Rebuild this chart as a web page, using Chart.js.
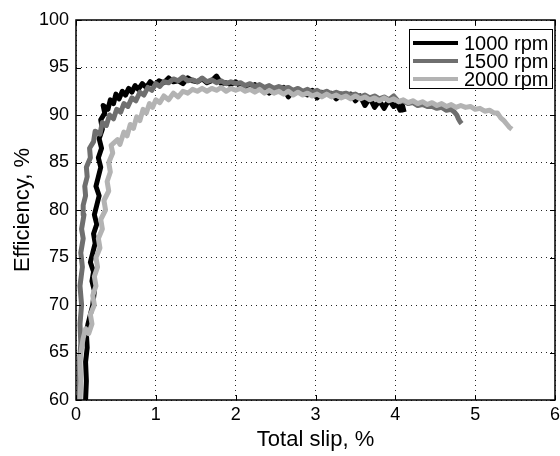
<!DOCTYPE html>
<html>
<head>
<meta charset="utf-8">
<script src="https://cdn.jsdelivr.net/npm/chart.js@4/dist/chart.umd.min.js"></script>
<style>
  html, body { margin: 0; padding: 0; background: #fff; }
  #wrap { width: 560px; height: 456px; }
</style>
</head>
<body>
<div id="wrap"><canvas id="effChart" width="560" height="456"></canvas></div>
<script>
// values: [total slip %, efficiency %]
const seriesLabels = ['1000 rpm', '1500 rpm', '2000 rpm'];
const seriesColors = ['#000000', '#6f6f6f', '#b3b3b3'];

const rpm1000 = [
  [0.12,60],[0.13,62],[0.12,64],[0.14,65.5],[0.13,67],[0.15,68],[0.18,69],[0.21,70],[0.23,71.5],[0.20,72.5],
  [0.22,73.5],[0.18,74.5],[0.21,75.5],[0.24,76.5],[0.22,77.5],[0.26,78.5],[0.23,79.5],[0.26,80.5],[0.29,81.5],[0.25,82.5],
  [0.28,83.5],[0.31,84.5],[0.28,85.5],[0.32,86.5],[0.29,87.5],[0.33,88.5],[0.31,89.5],[0.36,90.2],[0.34,91.0],[0.40,90.6],
  [0.43,91.6],[0.47,91.2],[0.50,92.2],[0.54,91.7],[0.58,92.5],[0.62,92.1],[0.66,92.8],[0.70,92.4],[0.74,93.1],[0.78,92.7],
  [0.83,93.3],[0.88,92.9],[0.93,93.5],[0.98,93.1],[1.04,93.6],[1.10,93.4],[1.16,93.9],[1.22,93.5],[1.28,93.6],[1.34,93.3],
  [1.40,93.9],[1.46,93.6],[1.52,93.5],[1.58,93.8],[1.64,93.4],[1.70,93.6],[1.76,94.1],[1.82,93.3],[1.88,93.4],[1.94,93.2],
  [2.00,93.5],[2.06,93.0],[2.12,93.1],[2.18,92.8],[2.24,93.2],[2.30,92.7],[2.36,92.9],[2.42,92.3],[2.48,92.8],[2.54,92.6],
  [2.60,92.9],[2.66,91.9],[2.72,92.5],[2.78,92.6],[2.84,92.3],[2.90,92.1],[2.96,92.6],[3.02,91.8],[3.08,92.4],[3.14,92.2],
  [3.20,92.3],[3.26,91.7],[3.32,92.2],[3.38,92.0],[3.44,92.2],[3.50,91.5],[3.56,92.0],[3.62,91.0],[3.68,91.8],[3.74,90.8],
  [3.80,91.5],[3.86,90.7],[3.92,91.6],[3.98,90.9],[4.02,91.2],[4.06,90.5],[4.09,91.0],[4.11,90.3]
];

const rpm1500 = [
  [0.04,60],[0.05,62],[0.04,64],[0.06,66],[0.05,68],[0.07,70],[0.05,72],[0.08,74],[0.06,75.5],[0.09,77],
  [0.07,78],[0.10,79.5],[0.09,80.5],[0.12,81.5],[0.11,82.5],[0.14,83.5],[0.13,84.5],[0.18,85.5],[0.17,86.5],[0.22,87.2],
  [0.24,88.3],[0.30,88.0],[0.33,89.2],[0.38,88.9],[0.42,90.0],[0.47,89.6],[0.51,90.6],[0.56,90.3],[0.60,91.2],[0.65,90.9],
  [0.70,91.8],[0.75,91.5],[0.80,92.4],[0.85,92.1],[0.90,92.9],[0.95,92.6],[1.00,93.3],[1.05,93.0],[1.10,93.5],[1.16,93.4],
  [1.22,93.8],[1.28,93.6],[1.34,94.0],[1.40,93.6],[1.46,93.7],[1.52,93.5],[1.58,93.9],[1.64,93.5],[1.70,93.7],[1.76,93.4],
  [1.82,93.6],[1.88,93.3],[1.94,93.5],[2.00,93.3],[2.06,93.4],[2.12,93.1],[2.18,93.3],[2.24,93.0],[2.30,93.2],[2.36,92.9],
  [2.42,93.1],[2.48,92.8],[2.54,93.0],[2.60,92.8],[2.66,92.9],[2.72,92.6],[2.78,92.8],[2.84,92.5],[2.90,92.7],[2.96,92.4],
  [3.02,92.6],[3.08,92.3],[3.14,92.5],[3.20,92.2],[3.26,92.4],[3.32,92.2],[3.38,92.3],[3.44,92.1],[3.50,92.2],[3.56,91.9],
  [3.62,92.1],[3.68,91.8],[3.74,92.0],[3.80,91.7],[3.86,91.9],[3.92,91.6],[3.98,92.0],[4.04,91.4],[4.10,91.5],[4.16,91.2],
  [4.22,91.3],[4.28,91.0],[4.34,91.1],[4.40,90.9],[4.46,90.9],[4.52,90.7],[4.58,90.8],[4.64,90.5],[4.70,90.6],[4.74,90.3],
  [4.77,90.0],[4.79,89.6],[4.81,89.3],[4.83,89.1]
];

const rpm2000 = [
  [0.05,60],[0.06,62],[0.05,64],[0.07,65.5],[0.09,66.5],[0.12,67.5],[0.16,67.0],[0.20,68.0],[0.18,69.0],[0.23,70.0],
  [0.21,71.0],[0.25,72.0],[0.23,73.0],[0.27,74.0],[0.25,75.0],[0.30,76.0],[0.28,77.0],[0.33,78.0],[0.31,79.0],[0.37,80.0],
  [0.35,81.0],[0.41,82.0],[0.39,83.0],[0.43,84.0],[0.41,85.0],[0.46,86.0],[0.44,86.8],[0.52,87.4],[0.55,86.9],[0.60,88.2],
  [0.64,87.8],[0.68,89.0],[0.72,88.6],[0.76,89.8],[0.80,89.4],[0.84,90.6],[0.88,90.2],[0.92,91.2],[0.96,90.8],[1.00,91.6],
  [1.05,91.3],[1.10,92.0],[1.16,91.6],[1.22,92.3],[1.28,91.9],[1.34,92.5],[1.40,92.3],[1.46,92.7],[1.52,92.5],[1.58,92.8],
  [1.64,92.5],[1.70,92.8],[1.76,92.6],[1.82,92.9],[1.88,92.5],[1.94,92.8],[2.00,92.6],[2.06,92.8],[2.12,92.5],[2.18,92.7],
  [2.24,92.4],[2.30,92.7],[2.36,92.3],[2.42,92.6],[2.48,92.3],[2.54,92.5],[2.60,92.2],[2.66,92.5],[2.72,92.1],[2.78,92.4],
  [2.84,92.1],[2.90,92.3],[2.96,92.0],[3.02,92.2],[3.08,91.9],[3.14,92.2],[3.20,91.9],[3.26,92.1],[3.32,91.8],[3.38,92.0],
  [3.44,91.7],[3.50,92.0],[3.56,91.7],[3.62,91.9],[3.68,91.6],[3.74,91.8],[3.80,91.5],[3.86,91.8],[3.92,91.5],[3.98,91.7],
  [4.04,91.4],[4.10,91.6],[4.16,91.3],[4.22,91.5],[4.28,91.2],[4.34,91.4],[4.40,91.1],[4.46,91.3],[4.52,91.0],[4.58,91.2],
  [4.64,90.9],[4.70,91.1],[4.76,90.8],[4.82,91.0],[4.88,90.8],[4.94,90.9],[5.00,90.6],[5.06,90.7],[5.12,90.4],[5.18,90.5],
  [5.24,90.2],[5.28,90.2],[5.32,89.7],[5.36,89.4],[5.40,89.0],[5.43,88.7],[5.46,88.5]
];

const xTicks = [0, 1, 2, 3, 4, 5, 6];
const yTicks = [60, 65, 70, 75, 80, 85, 90, 95, 100];

const allSeries = [rpm1000, rpm1500, rpm2000];

const datasets = seriesLabels.map((label, i) => ({
    label: label,
    data: allSeries[i].map(p => ({ x: p[0], y: p[1] })),
    borderColor: seriesColors[i],
    backgroundColor: seriesColors[i],
    borderWidth: 5,
    borderJoinStyle: 'round',
    pointRadius: 0,
    showLine: true,
    tension: 0,
    order: 2 - i   // later series on top, like matlab
}));

// box, inward ticks and legend, drawn on top of the lines
const framePlugin = {
    id: 'frame',
    afterDatasetsDraw(chart) {
        const ctx = chart.ctx;
        const a = chart.chartArea;
        const xs = chart.scales.x;
        const ys = chart.scales.y;
        ctx.save();
        ctx.strokeStyle = '#000';
        ctx.lineWidth = 1;
        ctx.beginPath();
        xTicks.forEach(v => {
            const px = Math.round(xs.getPixelForValue(v)) + 0.5;
            ctx.moveTo(px, a.bottom); ctx.lineTo(px, a.bottom - 5);
            ctx.moveTo(px, a.top); ctx.lineTo(px, a.top + 5);
        });
        yTicks.forEach(v => {
            const py = Math.round(ys.getPixelForValue(v)) + 0.5;
            ctx.moveTo(a.left, py); ctx.lineTo(a.left + 5, py);
            ctx.moveTo(a.right, py); ctx.lineTo(a.right - 5, py);
        });
        ctx.stroke();
        ctx.lineWidth = 1.5;
        ctx.strokeRect(a.left, a.top, a.right - a.left, a.bottom - a.top);

        // legend
        const lx = 409, ly = 29, lw = 143, lh = 59;
        ctx.fillStyle = '#fff';
        ctx.fillRect(lx, ly, lw, lh);
        ctx.lineWidth = 1;
        ctx.strokeRect(lx + 0.5, ly + 0.5, lw, lh);
        ctx.font = '20px "Liberation Sans", Arial, sans-serif';
        ctx.textBaseline = 'middle';
        ctx.textAlign = 'left';
        chart.data.datasets.forEach((ds, i) => {
            const yy = ly + 14 + i * 18;
            ctx.strokeStyle = ds.borderColor;
            ctx.lineWidth = 4;
            ctx.beginPath();
            ctx.moveTo(lx + 4, yy);
            ctx.lineTo(lx + 49, yy);
            ctx.stroke();
            ctx.fillStyle = '#000';
            ctx.fillText(ds.label, lx + 55, yy + 1);
        });
        ctx.restore();
    }
};

const ctx = document.getElementById('effChart').getContext('2d');
new Chart(ctx, {
    type: 'scatter',
    data: { datasets: datasets },
    options: {
        responsive: false,
        animation: false,
        layout: { padding: { left: 0, right: 5, top: 20, bottom: 0 } },
        plugins: {
            legend: { display: false },
            tooltip: { enabled: false }
        },
        scales: {
            x: {
                type: 'linear',
                min: 0,
                max: 6,
                afterFit: function (scale) {
                    scale.height = 56;
                    scale.paddingLeft = 0;
                    scale.paddingRight = 0;
                },
                afterBuildTicks: function (scale) { scale.ticks = xTicks.map(v => ({ value: v })); },
                grid: { color: 'rgba(0,0,0,0.85)', drawTicks: false, lineWidth: 1 },
                border: { display: false, dash: [1, 4] },
                ticks: {
                    padding: 4,
                    color: '#000',
                    font: { family: '"Liberation Sans", Arial, sans-serif', size: 18 },
                    maxRotation: 0
                },
                title: {
                    display: true,
                    text: 'Total slip, %',
                    color: '#000',
                    font: { family: '"Liberation Sans", Arial, sans-serif', size: 22 },
                    padding: { top: 0, bottom: 3 }
                }
            },
            y: {
                type: 'linear',
                min: 60,
                max: 100,
                afterFit: function (scale) {
                    scale.width = 76;
                    scale.paddingTop = 0;
                    scale.paddingBottom = 0;
                },
                afterBuildTicks: function (scale) { scale.ticks = yTicks.map(v => ({ value: v })); },
                grid: { color: 'rgba(0,0,0,0.85)', drawTicks: false, lineWidth: 1 },
                border: { display: false, dash: [1, 4] },
                ticks: {
                    padding: 7,
                    color: '#000',
                    font: { family: '"Liberation Sans", Arial, sans-serif', size: 18 }
                },
                title: {
                    display: true,
                    text: 'Efficiency, %',
                    color: '#000',
                    font: { family: '"Liberation Sans", Arial, sans-serif', size: 22 },
                    padding: { top: 10, bottom: 0 }
                }
            }
        }
    },
    plugins: [framePlugin]
});
</script>
</body>
</html>
